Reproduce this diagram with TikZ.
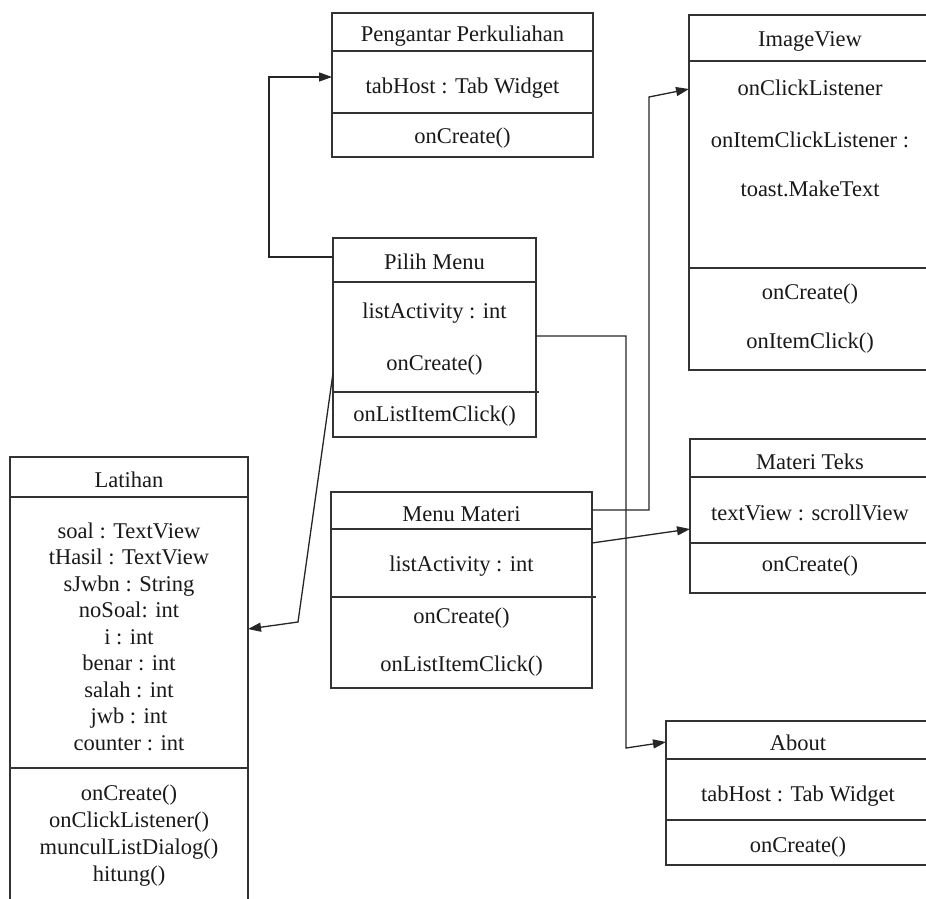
\documentclass[tikz,border=0pt]{standalone}
\usepackage{fontspec}
\setmainfont{Liberation Serif}
\usetikzlibrary{arrows.meta}
\begin{document}
\begin{tikzpicture}[x=1pt,y=-1pt,
  box/.style={draw=black!80, line width=1.4pt, inner sep=0pt, outer sep=0pt},
  dv/.style={draw=black!80, line width=1.4pt},
  lbl/.style={font=\fontsize{22.5}{26}\selectfont, inner sep=0pt, text height=17pt, text depth=1pt, text=black!90},
  conn/.style={draw=black!85, line width=1.3pt},
  arr/.style={conn, -{Triangle[length=13pt,width=9pt]}}]
\useasboundingbox (0,0) rectangle (926,898);
\clip (0,0) rectangle (926,898);
\fill[white] (0,0) rectangle (926,898);

% Pengantar Perkuliahan
\node[box, minimum width=261pt, minimum height=144pt] (peng) at (462.5,85) {};
\draw[dv] ([yshift=-38pt]peng.north west) -- ([yshift=-38pt]peng.north east);
\draw[dv] ([yshift=-100pt]peng.north west) -- ([yshift=-100pt]peng.north east);
\node[lbl] (p1) at (462.5,33) {Pengantar Perkuliahan};
\node[lbl] (p2) at (462.5,85) {tabHost : Tab Widget};
\node[lbl] (p3) at (462.5,135) {onCreate()};

% Pilih Menu
\node[box, minimum width=203pt, minimum height=199pt] (pilih) at (434.5,337.5) {};
\draw[dv] ([yshift=-44pt]pilih.north west) -- ([yshift=-44pt]pilih.north east);
\draw[dv] ([yshift=-154pt]pilih.north west) -- ([yshift=-154pt,xshift=3pt]pilih.north east);
\node[lbl] (m1) at (434.5,261) {Pilih Menu};
\node[lbl] (m2) at (434.5,310) {listActivity : int};
\node[lbl] (m3) at (434.5,362) {onCreate()};
\node[lbl] (m4) at (434.5,413) {onListItemClick()};

% Latihan
\node[box, minimum width=238pt, minimum height=460pt] (lat) at (129,687) {};
\draw[dv] ([yshift=-40pt]lat.north west) -- ([yshift=-40pt]lat.north east);
\draw[dv] ([yshift=-311pt]lat.north west) -- ([yshift=-311pt]lat.north east);
\node[lbl] (l0) at (129,479) {Latihan};
\node[lbl] (l1) at (129,530) {soal : TextView};
\node[lbl] (l2) at (129,556.5) {tHasil : TextView};
\node[lbl] (l3) at (129,583) {sJwbn : String};
\node[lbl] (l4) at (129,609.5) {noSoal: int};
\node[lbl] (l5) at (129,636) {i : int};
\node[lbl] (l6) at (129,662.5) {benar : int};
\node[lbl] (l7) at (129,689) {salah : int};
\node[lbl] (l8) at (129,715.5) {jwb : int};
\node[lbl] (l9) at (129,742) {counter : int};
\node[lbl] (l10) at (129,792) {onCreate()};
\node[lbl] (l11) at (129,819) {onClickListener()};
\node[lbl] (l12) at (129,846) {munculListDialog()};
\node[lbl] (l13) at (129,873) {hitung()};

% Menu Materi
\node[box, minimum width=261pt, minimum height=196pt] (mm) at (461.5,590) {};
\draw[dv] ([yshift=-37pt]mm.north west) -- ([yshift=-37pt]mm.north east);
\draw[dv] ([yshift=-105pt]mm.north west) -- ([yshift=-105pt,xshift=4pt]mm.north east);
\node[lbl] (n1) at (461.5,513) {Menu Materi};
\node[lbl] (n2) at (461.5,563) {listActivity : int};
\node[lbl] (n3) at (461.5,615) {onCreate()};
\node[lbl] (n4) at (461.5,663) {onListItemClick()};

% ImageView
\node[box, minimum width=242pt, minimum height=355pt] (imv) at (810,192.5) {};
\draw[dv] ([yshift=-46pt]imv.north west) -- ([yshift=-46pt]imv.north east);
\draw[dv] ([yshift=-253pt]imv.north west) -- ([yshift=-253pt]imv.north east);
\node[lbl] (i1) at (810,38) {ImageView};
\node[lbl] (i2) at (810,87) {onClickListener};
\node[lbl] (i3) at (810,139) {onItemClickListener :};
\node[lbl] (i4) at (810,188) {toast.MakeText};
\node[lbl] (i5) at (810,291) {onCreate()};
\node[lbl] (i6) at (810,340) {onItemClick()};

% Materi Teks
\node[box, minimum width=240pt, minimum height=154pt] (mt) at (810,516) {};
\draw[dv] ([yshift=-38pt]mt.north west) -- ([yshift=-38pt]mt.north east);
\draw[dv] ([yshift=-104pt]mt.north west) -- ([yshift=-104pt]mt.north east);
\node[lbl] (t1) at (810,461) {Materi Teks};
\node[lbl] (t2) at (810,512) {textView : scrollView};
\node[lbl] (t3) at (810,563) {onCreate()};

% About
\node[box, minimum width=264pt, minimum height=144pt] (about) at (798,793) {};
\draw[dv] ([yshift=-38pt]about.north west) -- ([yshift=-38pt]about.north east);
\draw[dv] ([yshift=-99pt]about.north west) -- ([yshift=-99pt]about.north east);
\node[lbl] (a1) at (798,742) {About};
\node[lbl] (a2) at (798,793) {tabHost : Tab Widget};
\node[lbl] (a3) at (798,844) {onCreate()};

% Connectors
\draw[arr] ([yshift=80.5pt]pilih.west) -| ([xshift=-63pt,yshift=8pt]peng.west) -- ([yshift=8pt]peng.west);
\draw[arr] ([yshift=-35.5pt]pilih.west) -- ([xshift=50pt,yshift=65pt]lat.east) -- ([yshift=58pt]lat.east);
\draw[arr] ([yshift=1.5pt]pilih.east) -| ([xshift=-40pt,yshift=45pt]about.west) -- ([yshift=51pt]about.west);
\draw[arr] ([yshift=80pt]mm.east) -| ([xshift=-40pt,yshift=95.5pt]imv.west) -- ([yshift=103.5pt]imv.west);
\draw[arr] ([yshift=47pt]mm.east) -- ([yshift=-13pt]mt.west);
\end{tikzpicture}
\end{document}
